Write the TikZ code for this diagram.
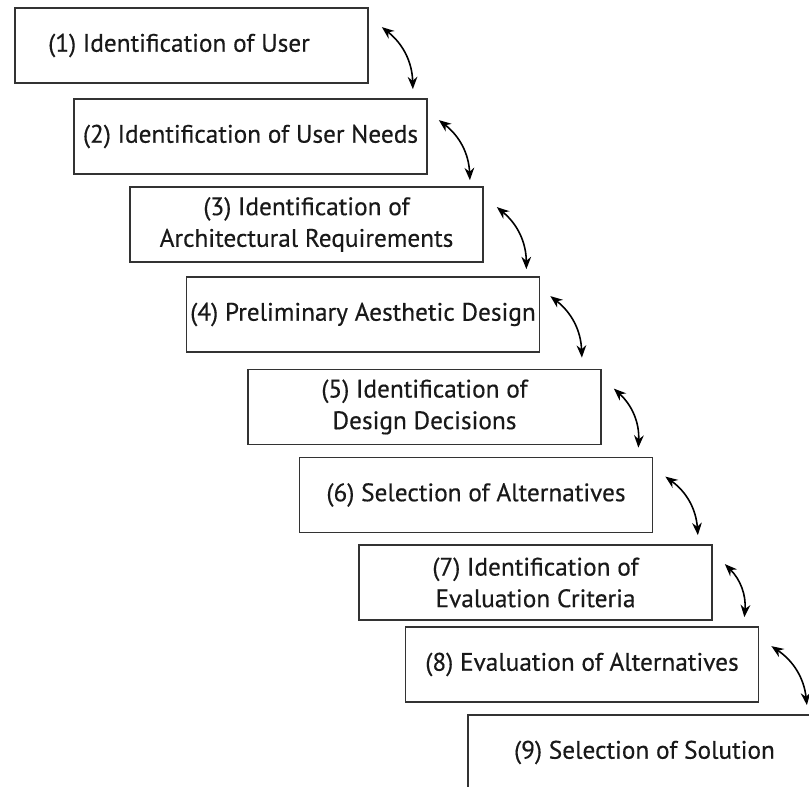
\documentclass[tikz,border=0pt]{standalone}
\usepackage{fontspec}
\setmainfont{PT Sans}[FakeBold=0.4]
\usetikzlibrary{arrows.meta}

\begin{document}
\begin{tikzpicture}[
  stage/.style={draw=black!80, line width=1pt, minimum width=7.06cm, minimum height=1.5cm,
    inner sep=0pt, align=center, text=black!90, font=\fontsize{14.4}{18}\selectfont},
  link/.style={{Stealth[length=7pt,width=5.5pt]}-{Stealth[length=7pt,width=5.5pt]},
    line width=0.9pt, bend left=25}]
\useasboundingbox (0,0) rectangle (16.18,-15.74);
\clip (0,0) rectangle (16.18,-15.74);
\node[stage] (s1) at (3.83,-0.91) {(1) Identification of User\hspace*{0.5cm}};
\node[stage] (s2) at (5.01,-2.73) {(2) Identification of User Needs};
\node[stage] (s3) at (6.13,-4.49) {(3) Identification of\\Architectural Requirements};
\node[stage] (s4) at (7.26,-6.29) {(4) Preliminary Aesthetic Design};
\node[stage] (s5) at (8.49,-8.14) {(5) Identification of\\Design Decisions};
\node[stage] (s6) at (9.52,-9.90) {(6) Selection of Alternatives};
\node[stage] (s7) at (10.71,-11.65) {(7) Identification of\\Evaluation Criteria};
\node[stage] (s8) at (11.64,-13.29) {(8) Evaluation of Alternatives};
\node[stage] (s9) at (12.89,-15.05) {(9) Selection of Solution};
\draw[link] ([shift={(0.26,-0.40)}]s1.north east) to ([shift={(-0.30,0.18)}]s2.north east);
\draw[link] ([shift={(0.22,-0.44)}]s2.north east) to ([shift={(-0.28,0.12)}]s3.north east);
\draw[link] ([shift={(0.26,-0.42)}]s3.north east) to ([shift={(-0.28,0.14)}]s4.north east);
\draw[link] ([shift={(0.20,-0.40)}]s4.north east) to ([shift={(-0.40,0.22)}]s5.north east);
\draw[link] ([shift={(0.24,-0.40)}]s5.north east) to ([shift={(-0.30,0.18)}]s6.north east);
\draw[link] ([shift={(0.24,-0.40)}]s6.north east) to ([shift={(-0.30,0.18)}]s7.north east);
\draw[link] ([shift={(0.24,-0.40)}]s7.north east) to ([shift={(-0.30,0.18)}]s8.north east);
\draw[link] ([shift={(0.24,-0.40)}]s8.north east) to ([shift={(-0.30,0.18)}]s9.north east);
\end{tikzpicture}
\end{document}
